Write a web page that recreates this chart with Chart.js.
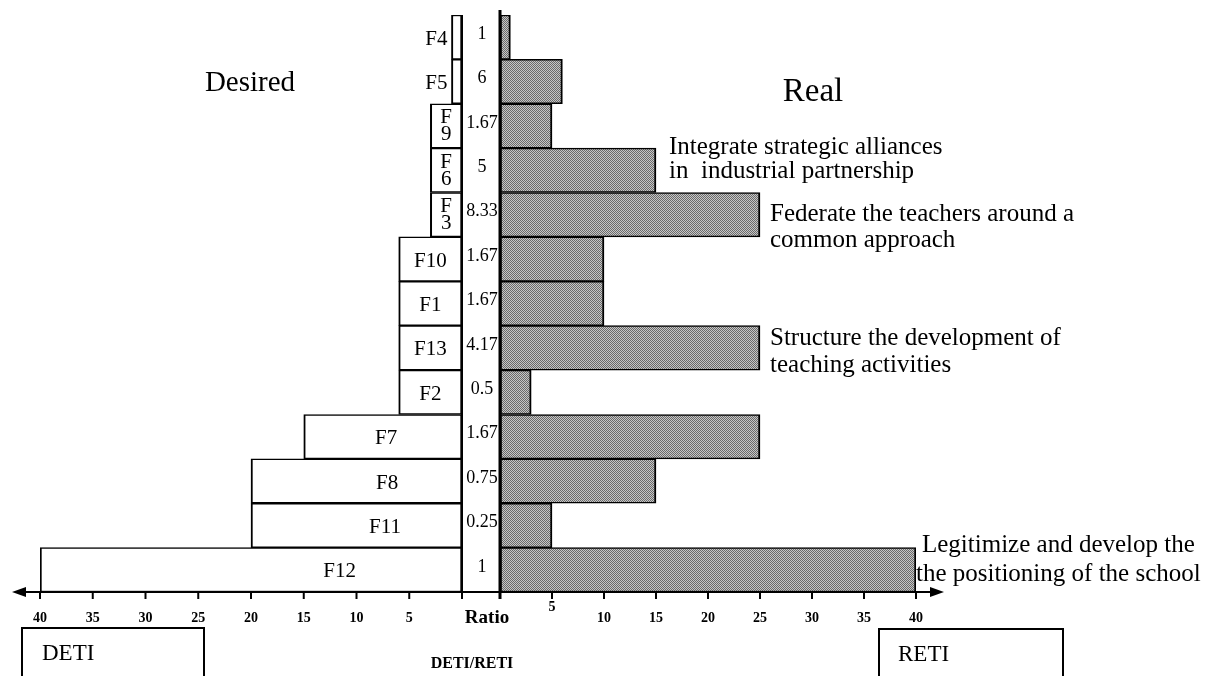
<!DOCTYPE html>
<html><head><meta charset="utf-8">
<script src="https://cdn.jsdelivr.net/npm/chart.js@4/dist/chart.umd.min.js"></script>
<style>
html,body{margin:0;padding:0;background:#fff;}
#wrap{position:relative;width:1215px;height:676px;overflow:hidden;background:#fff;}
canvas{position:absolute;left:0;top:0;}
</style></head><body>
<div id="wrap"><canvas id="leftC" width="1215" height="676"></canvas><canvas id="rightC" width="1215" height="676"></canvas></div>
<script>
// ---- data ----
const factors = ['F4','F5','F9','F6','F3','F10','F1','F13','F2','F7','F8','F11','F12'];
const desired = [1,1,3,3,3,6,6,6,6,15,20,20,40];      // DETI
const real    = [1,6,5,15,25,10,10,25,3,25,15,5,40];   // RETI
const ratios  = ['1','6','1.67','5','8.33','1.67','1.67','4.17','0.5','1.67','0.75','0.25','1'];
const leftTicks  = [40,35,30,25,20,15,10,5];
const rightTicks = [5,10,15,20,25,30,35,40];
const annotationRows  = ['F6','F3','F13','F12'];
const annotationTexts = [
  ['Integrate strategic alliances','in  industrial partnership'],
  ['Federate the teachers around a','common approach'],
  ['Structure the development of','teaching activities'],
  ['Legitimize and develop the','the positioning of the school']
];

// ---- styles / layout ----
const SERIF = '"Liberation Serif","Times New Roman",serif';
const AXIS_Y = 592;
const labelAt = {F7:7.2, F8:7.1, F11:7.3, F12:11.6};
const annStyle = [
  {dx:13, dy:[-23,1]},
  {dx:10, dy:[0,26]},
  {dx:10, dy:[-9,18]},
  {dx:6,  dy:[-24,5]}
];

function ditherPattern(){
  const c=document.createElement('canvas'); c.width=4; c.height=4;
  const g=c.getContext('2d');
  g.fillStyle='#c6c6c6'; g.fillRect(0,0,4,4);
  g.fillStyle='#6a6a6a';
  for(let y=0;y<4;y++)for(let x=0;x<4;x++) if((x+y)%2===0) g.fillRect(x,y,1,1);
  return g.createPattern(c,'repeat');
}

const commonOpts = (pad)=>({
  responsive:false, animation:false, devicePixelRatio:1, indexAxis:'y',
  layout:{padding:pad},
  plugins:{legend:{display:false}, tooltip:{enabled:false}},
});

const leftPlugin = {
  id:'leftDeco',
  afterDatasetsDraw(chart){
    const ctx=chart.ctx, xs=chart.scales.x, ys=chart.scales.y, ca=chart.chartArea;
    ctx.save();
    ctx.fillStyle='#000'; ctx.strokeStyle='#000';
    ctx.textBaseline='middle';
    factors.forEach((f,i)=>{
      const yc=ys.getPixelForValue(i);
      const v=desired[i];
      ctx.font='21px '+SERIF;
      if(v<=1){
        ctx.textAlign='right';
        ctx.fillText(f, xs.getPixelForValue(v)-4, yc+2);
      } else if(v<=3){
        ctx.textAlign='center';
        const xc=xs.getPixelForValue(v/2);
        ctx.font='21px '+SERIF;
        ctx.fillText(f[0], xc, yc-8);
        ctx.fillText(f.slice(1), xc, yc+9);
      } else {
        ctx.textAlign='center';
        const at = (labelAt[f]!==undefined)? labelAt[f] : v/2;
        ctx.fillText(f, xs.getPixelForValue(at), yc+2);
      }
      ctx.font='18px '+SERIF;
      ctx.textAlign='center';
      ctx.fillText(ratios[i], ca.right+20, yc-3);
    });
    // ratio column left border
    ctx.lineWidth=2;
    ctx.beginPath(); ctx.moveTo(ca.right, ca.top); ctx.lineTo(ca.right, AXIS_Y+7); ctx.stroke();
    // left ticks and labels
    ctx.font='bold 14px '+SERIF;
    leftTicks.forEach(t=>{
      const x=xs.getPixelForValue(t);
      ctx.beginPath(); ctx.moveTo(x, AXIS_Y); ctx.lineTo(x, AXIS_Y+7); ctx.stroke();
      ctx.fillText(String(t), x, AXIS_Y+26);
    });
    // Desired title
    ctx.font='29px '+SERIF;
    ctx.fillText('Desired', 250, 83);
    ctx.restore();
  }
};

const rightPlugin = {
  id:'rightDeco',
  afterDatasetsDraw(chart){
    const ctx=chart.ctx, xs=chart.scales.x, ys=chart.scales.y, ca=chart.chartArea;
    ctx.save();
    ctx.fillStyle='#000'; ctx.strokeStyle='#000';
    // vertical axis
    ctx.lineWidth=3;
    ctx.beginPath(); ctx.moveTo(ca.left, ca.top-5); ctx.lineTo(ca.left, AXIS_Y+7); ctx.stroke();
    // horizontal axis with arrows
    ctx.lineWidth=2;
    ctx.beginPath(); ctx.moveTo(20, AXIS_Y); ctx.lineTo(935, AXIS_Y); ctx.stroke();
    ctx.beginPath(); ctx.moveTo(12, AXIS_Y); ctx.lineTo(26, AXIS_Y-5); ctx.lineTo(26, AXIS_Y+5); ctx.closePath(); ctx.fill();
    ctx.beginPath(); ctx.moveTo(944, AXIS_Y); ctx.lineTo(930, AXIS_Y-5); ctx.lineTo(930, AXIS_Y+5); ctx.closePath(); ctx.fill();
    // right ticks
    ctx.textAlign='center'; ctx.textBaseline='middle';
    ctx.font='bold 14px '+SERIF;
    ctx.lineWidth=2;
    rightTicks.forEach(t=>{
      const x=xs.getPixelForValue(t);
      ctx.beginPath(); ctx.moveTo(x, AXIS_Y); ctx.lineTo(x, AXIS_Y+7); ctx.stroke();
      ctx.fillText(String(t), x, t===5? AXIS_Y+15 : AXIS_Y+26);
    });
    // Ratio label
    ctx.font='bold 19px '+SERIF;
    ctx.fillText('Ratio', 487, AXIS_Y+26);
    ctx.font='bold 16px '+SERIF;
    ctx.fillText('DETI/RETI', 472, 664);
    // Real title
    ctx.font='33px '+SERIF;
    ctx.fillText('Real', 813, 92);
    // annotations
    ctx.textAlign='left';
    ctx.font='25px '+SERIF;
    annotationRows.forEach((r,k)=>{
      const i=factors.indexOf(r);
      const yc=ys.getPixelForValue(i);
      const x=xs.getPixelForValue(real[i])+annStyle[k].dx;
      annotationTexts[k].forEach((line,j)=>{
        ctx.fillText(line, x - (k===3&&j===1?6:0), yc+annStyle[k].dy[j]);
      });
    });
    // bottom boxes
    ctx.lineWidth=2;
    ctx.strokeRect(22, 628, 182, 60);
    ctx.strokeRect(879, 629, 184, 60);
    ctx.font='23px '+SERIF;
    ctx.textBaseline='alphabetic';
    ctx.fillText('DETI', 42, 660);
    ctx.fillText('RETI', 898, 661);
    ctx.restore();
  }
};

const leftChart = new Chart(document.getElementById('leftC'), {
  type:'bar',
  data:{labels:factors, datasets:[{data:desired, backgroundColor:'#ffffff', borderColor:'#000',
    borderWidth:{top:1.5,bottom:1.5,left:2,right:2}, borderSkipped:false, barPercentage:1, categoryPercentage:1}]},
  options:Object.assign(commonOpts({left:40, right:1215-462, top:15, bottom:676-AXIS_Y}), {
    scales:{x:{type:'linear', min:0, max:40, reverse:true, display:false},
            y:{type:'category', display:false}}
  }),
  plugins:[leftPlugin]
});

const rightChart = new Chart(document.getElementById('rightC'), {
  type:'bar',
  data:{labels:factors, datasets:[{data:real, backgroundColor:ditherPattern(), borderColor:'#000',
    borderWidth:{top:1.5,bottom:1.5,left:2,right:2}, borderSkipped:false, barPercentage:1, categoryPercentage:1}]},
  options:Object.assign(commonOpts({left:500, right:1215-916, top:15, bottom:676-AXIS_Y}), {
    scales:{x:{type:'linear', min:0, max:40, display:false},
            y:{type:'category', display:false}}
  }),
  plugins:[rightPlugin]
});
</script>
</body></html>
